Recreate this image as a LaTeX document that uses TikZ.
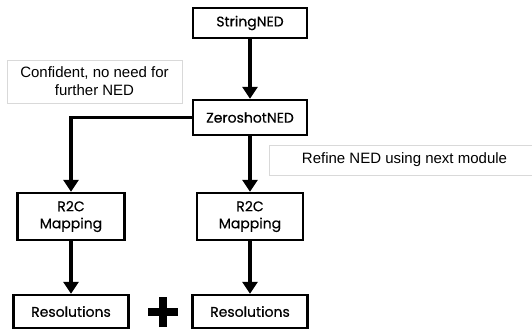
\documentclass[tikz,border=0pt]{standalone}
\usepackage{fontspec}
\setmainfont{Liberation Sans}
\newfontfamily\stagefont[FakeBold=0.4]{Poppins}
\usetikzlibrary{positioning,arrows.meta}

\begin{document}
\begin{tikzpicture}[x=1pt, y=-1pt,
    stage/.style={draw, line width=2.4pt, align=center, inner sep=0pt,
        font=\stagefont\fontsize{14}{17}\selectfont},
    note/.style={draw=black!15, line width=0.8pt, align=center, inner sep=0pt,
        font=\fontsize{15}{18}\selectfont},
    flow/.style={line width=3.6pt, -{Triangle[length=12pt,width=15pt]}}]
    \useasboundingbox (0,0) rectangle (532,331);

    \node[stage, minimum width=114pt, minimum height=30pt] (string) at (250,23) {StringNED};
    \node[stage, minimum width=114pt, minimum height=35pt] (zero) at (250,117.5) {ZeroshotNED};
    \node[stage, minimum width=107pt, minimum height=47pt] (r2cL) at (71,216.5) {R2C\\Mapping};
    \node[stage, minimum width=106pt, minimum height=47pt] (r2cR) at (250,216.5) {R2C\\Mapping};
    \node[stage, minimum width=115pt, minimum height=33pt] (resL) at (71,311.5) {Resolutions};
    \node[stage, minimum width=115pt, minimum height=33pt] (resR) at (250,311.5) {Resolutions};

    \node[note, minimum width=175pt, minimum height=43pt] (confident) at (94.5,81.5)
        {Confident, no need for\\further NED};
    \node[note, minimum width=271pt, minimum height=30pt] (refine) at (404.5,160)
        {Refine NED using next module};

    \draw[flow] (string) -- (zero);
    \draw[flow] (zero.west) -| (r2cL);
    \draw[flow] (zero) -- (r2cR);
    \draw[flow] (r2cL) -- (resL);
    \draw[flow] (r2cR) -- (resR);

    \coordinate (plus) at (163,312);
    \draw[line width=8pt] ([xshift=-15pt]plus) -- ([xshift=15pt]plus)
        ([yshift=-15pt]plus) -- ([yshift=15pt]plus);
\end{tikzpicture}
\end{document}
